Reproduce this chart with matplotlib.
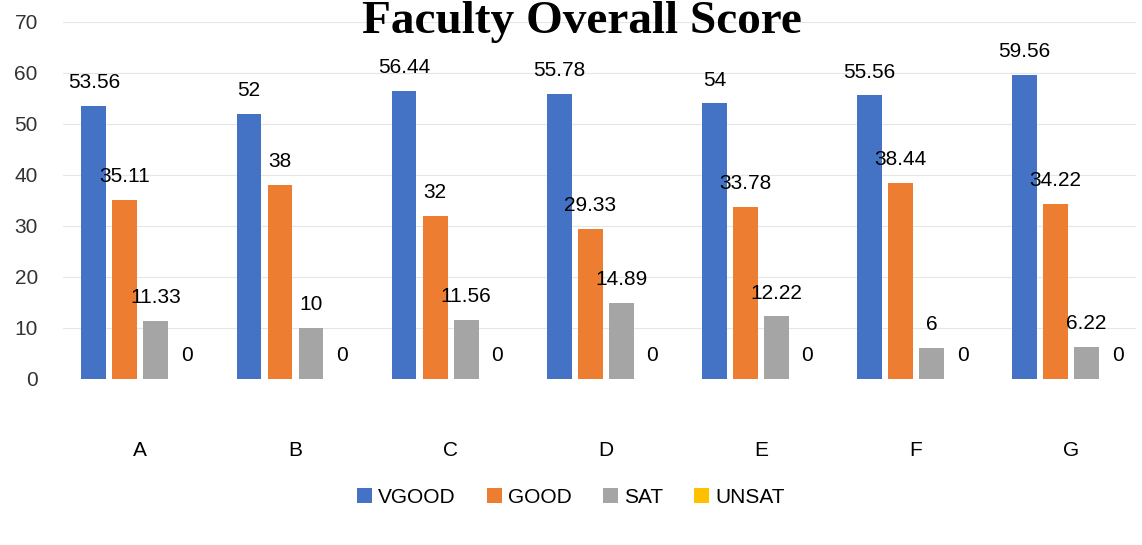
import numpy as np
import matplotlib.pyplot as plt

categories = ['A', 'B', 'C', 'D', 'E', 'F', 'G']
vgood = [53.56, 52, 56.44, 55.78, 54, 55.56, 59.56]
good = [35.11, 38, 32, 29.33, 33.78, 38.44, 34.22]
sat = [11.33, 10, 11.56, 14.89, 12.22, 6, 6.22]
unsat = [0, 0, 0, 0, 0, 0, 0]

series = [('VGOOD', vgood, '#4472C4'), ('GOOD', good, '#ED7D31'),
          ('SAT', sat, '#A5A5A5'), ('UNSAT', unsat, '#FFC000')]

fig = plt.figure(figsize=(11.42, 5.45), dpi=100)
ax = fig.add_axes([0.055, 0.305, 0.94, 0.655])

x = np.arange(len(categories))
w = 0.16
step = 0.2
for i, (name, vals, col) in enumerate(series):
    pos = x + (i - 1.5) * step
    bars = ax.bar(pos, vals, w, color=col, label=name)
    ax.bar_label(bars, labels=[f'{v:g}' for v in vals], padding=10,
                 fontsize=15, family='Liberation Sans')

ax.set_ylim(0, 70)
ax.set_yticks(range(0, 71, 10))
ax.set_xlim(-0.5, len(categories) - 0.58)
ax.set_xticks(x)
ax.set_xticklabels(categories, fontsize=15, family='Liberation Sans')
ax.tick_params(axis='x', length=0, pad=45)
ax.tick_params(axis='y', length=0, labelsize=15, pad=18)
for lab in ax.get_yticklabels():
    lab.set_family('Liberation Sans')
    lab.set_color('#333333')
for s in ax.spines.values():
    s.set_visible(False)
ax.grid(axis='y', color='#e6e6e6', linewidth=0.8)
ax.set_axisbelow(True)

fig.text(0.51, 0.96, 'Faculty Overall Score', ha='center', va='center',
         fontsize=34, family='Liberation Serif', fontweight='bold')

fig.legend(loc='center', bbox_to_anchor=(0.5, 0.088), ncol=4, frameon=False,
           handlelength=0.7, handleheight=0.7, handletextpad=0.3,
           columnspacing=1.5, prop={'family': 'Liberation Sans', 'size': 15})

fig.savefig('out.png', dpi=100)
